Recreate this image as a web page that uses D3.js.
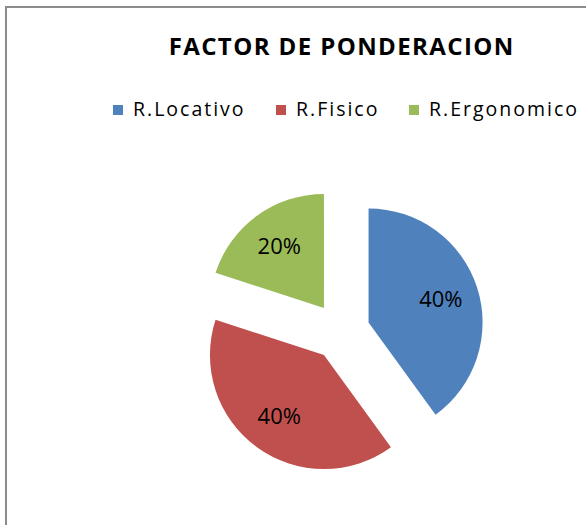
<!DOCTYPE html>
<html>
<head>
<meta charset="utf-8">
<script src="https://cdn.jsdelivr.net/npm/d3@7"></script>
<style>
  body { margin: 0; background: #fff; }
  svg { display: block; font-family: "Open Sans", Lato, sans-serif; }
</style>
</head>
<body>
<div id="chart"></div>
<script>
const categories = ["R.Locativo", "R.Fisico", "R.Ergonomico"];
const values = [40, 40, 20];
const colors = ["#4F81BD", "#C0504D", "#9BBB59"];
const title = "FACTOR DE PONDERACION";

const width = 586, height = 525;
const cx = 341, cy = 331.5, radius = 114, explode = 29, labelR = 76;

const svg = d3.select("#chart").append("svg")
    .attr("width", width)
    .attr("height", height);

// chart area frame (runs off the right and bottom edge)
svg.append("rect")
    .attr("x", 6).attr("y", 7)
    .attr("width", 700).attr("height", 700)
    .attr("fill", "#fff")
    .attr("stroke", "#8c8c8c")
    .attr("stroke-width", 2);

svg.append("text")
    .attr("x", cx + 0.7)
    .attr("y", 55)
    .attr("text-anchor", "middle")
    .style("font-size", "24px")
    .style("font-weight", "bold")
    .style("letter-spacing", "1.4px")
    .style("fill", "#000")
    .text(title);

// legend
const legendX = [113, 276, 409];
const legend = svg.append("g").selectAll("g")
    .data(categories)
    .enter().append("g")
    .attr("transform", (d, i) => `translate(${legendX[i]}, 0)`);

legend.append("rect")
    .attr("x", 0).attr("y", 105)
    .attr("width", 10).attr("height", 10)
    .attr("fill", (d, i) => colors[i]);

legend.append("text")
    .attr("x", 20)
    .attr("y", 116)
    .style("font-size", "19.5px")
    .style("letter-spacing", "2px")
    .style("fill", "#000")
    .text(d => d);

// pie
const total = d3.sum(values);
const pie = d3.pie().sort(null).value(d => d);
const arc = d3.arc().innerRadius(0).outerRadius(radius);
const arcs = pie(values);

const slices = svg.append("g")
    .attr("transform", `translate(${cx}, ${cy})`)
    .selectAll("g")
    .data(arcs)
    .enter().append("g")
    .attr("transform", d => {
        const a = (d.startAngle + d.endAngle) / 2;
        return `translate(${explode * Math.sin(a)}, ${-explode * Math.cos(a)})`;
    });

slices.append("path")
    .attr("d", arc)
    .attr("fill", (d, i) => colors[i]);

slices.append("text")
    .attr("x", d => labelR * Math.sin((d.startAngle + d.endAngle) / 2))
    .attr("y", d => -labelR * Math.cos((d.startAngle + d.endAngle) / 2))
    .attr("dy", "0.35em")
    .attr("text-anchor", "middle")
    .style("font-size", "22px")
    .style("fill", "#000")
    .text(d => Math.round(d.data / total * 100) + "%");
</script>
</body>
</html>
